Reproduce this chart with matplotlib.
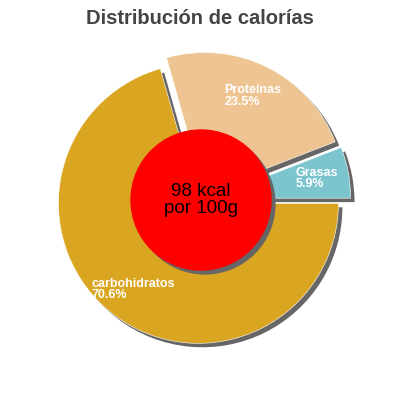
import numpy as np
import matplotlib
matplotlib.use("Agg")
import matplotlib.pyplot as plt

plt.rcParams['font.family'] = ['Liberation Sans', 'DejaVu Sans']

# datos
labels = ['Grasas', 'Proteínas', 'carbohidratos']
values = [5.9, 23.5, 70.6]
colors = ['#7cc5ce', '#eec592', '#daa520']
explode = [0.07, 0.06, 0.03]
center_text = '98 kcal\npor 100g'
title = 'Distribución de calorías'

fig = plt.figure(figsize=(4, 4), dpi=100)
ax = fig.add_axes([0, 0, 1, 1])
ax.set_aspect('equal')
ax.axis('off')

# sombra
off = 0.028
ax.pie(values, explode=explode, colors=['#666666'] * 3, startangle=0,
       counterclock=True, center=(off, -off), radius=1.0)
# tarta
wedges, _ = ax.pie(values, explode=explode, colors=colors, startangle=0,
                   counterclock=True, radius=1.0,
                   wedgeprops=dict(edgecolor='white', linewidth=0.4))

for w, lab, v in zip(wedges, labels, values):
    ang = np.deg2rad((w.theta1 + w.theta2) / 2)
    cx, cy = w.center
    r = 0.77 * w.r
    ax.text(cx + r * np.cos(ang), cy + r * np.sin(ang), f'{lab}\n{v}%',
            color='white', fontsize=9, fontweight='bold', ha='center',
            va='center', multialignment='left', linespacing=0.9)

# círculo central
ax.add_patch(plt.Circle((off, -off), 0.5, color='#666666', zorder=3))
ax.add_patch(plt.Circle((0, 0), 0.5, color='#ff0000', zorder=4))
ax.text(0, 0.0, center_text, ha='center', va='center', fontsize=13.5,
        color='black', linespacing=0.95, zorder=5)

ax.set_xlim(-201 / 140, 199 / 140)
ax.set_ylim(-200 / 140, 200 / 140)

fig.text(0.5, 0.953, title, ha='center', va='center', fontsize=14.5,
         fontweight='bold', color='#444444')

fig.savefig('out.png', dpi=100)
